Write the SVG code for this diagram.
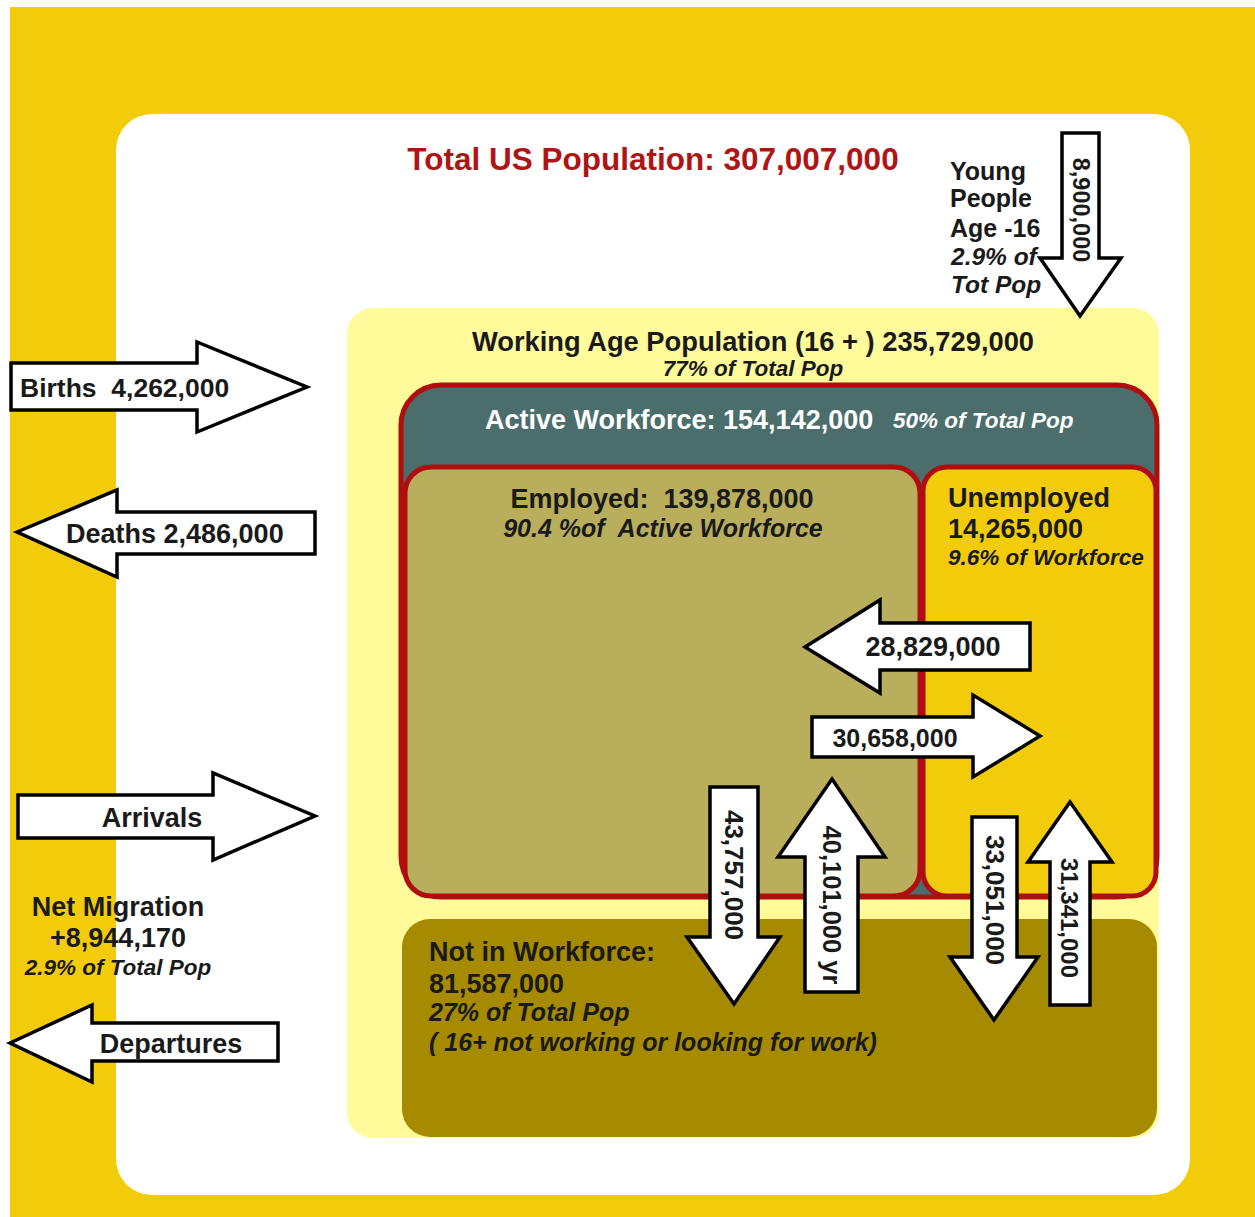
<svg xmlns="http://www.w3.org/2000/svg" width="1255" height="1217" viewBox="0 0 1255 1217">
<style>
  .b{font-family:"Liberation Sans",Arial,sans-serif;font-weight:bold;font-size:27px;fill:#1a1a1a}
  .i{font-family:"Liberation Sans",Arial,sans-serif;font-weight:bold;font-style:italic;font-size:22.5px;fill:#1a1a1a}
  .w{fill:#ffffff}
  .arr{fill:#ffffff;stroke:#000000;stroke-width:3.5;stroke-linejoin:miter}
  .box{stroke:#b00e0e;stroke-width:5}
</style>
<rect x="0" y="0" width="1255" height="1217" fill="#ffffff"/>
<rect x="10" y="7" width="1245" height="1210" fill="#f2cc0b"/>
<g id="total">
  <rect x="116" y="114" width="1074" height="1081" rx="36" fill="#ffffff"/>
  <text x="653" y="170" text-anchor="middle" class="b" style="fill:#b01515;font-size:31.5px">Total US Population: 307,007,000</text>
</g>
<g id="working-age">
  <rect x="347" y="308" width="812" height="830" rx="26" fill="#fffb9a"/>
  <text x="753" y="351" text-anchor="middle" class="b" style="font-size:27.3px">Working Age Population (16 + ) 235,729,000</text>
  <text x="753" y="376" text-anchor="middle" class="i">77% of Total Pop</text>
</g>
<g id="active-workforce">
  <rect x="401" y="385" width="756" height="512" rx="40" fill="#4b6d6b" class="box"/>
  <text x="485" y="429" class="b w">Active Workforce: 154,142,000</text>
  <text x="893" y="428" class="i w">50% of Total Pop</text>
</g>
<g id="employed">
  <rect x="405" y="467" width="515" height="429" rx="26" fill="#b9ae5c" class="box"/>
  <text x="662" y="508" text-anchor="middle" class="b" xml:space="preserve">Employed:  139,878,000</text>
  <text x="663" y="537" text-anchor="middle" class="i" style="font-size:25px" xml:space="preserve">90.4 %of  Active Workforce</text>
</g>
<g id="unemployed">
  <rect x="923" y="467" width="233" height="429" rx="24" fill="#f2cb0a" class="box"/>
  <text x="948" y="507" class="b">Unemployed</text>
  <text x="948" y="538" class="b">14,265,000</text>
  <text x="948" y="565" class="i">9.6% of Workforce</text>
</g>
<g id="not-in-workforce">
  <rect x="402" y="919" width="755" height="218" rx="28" fill="#a68a00"/>
  <text x="429" y="961" class="b">Not in Workforce:</text>
  <text x="429" y="993" class="b">81,587,000</text>
  <text x="429" y="1021" class="i" style="font-size:25px">27% of Total Pop</text>
  <text x="429" y="1051" class="i" style="font-size:25px">( 16+ not working or looking for work)</text>
</g>
<g id="young-people">
  <text x="950" y="180" class="b" style="font-size:25px">Young</text>
  <text x="950" y="207" class="b" style="font-size:25px">People</text>
  <text x="950" y="237" class="b" style="font-size:25px">Age -16</text>
  <text x="951" y="265" class="i" style="font-size:24.5px">2.9% of</text>
  <text x="951" y="293" class="i" style="font-size:24.5px">Tot Pop</text>
</g>
<g id="net-migration">
  <text x="118" y="916" text-anchor="middle" class="b">Net Migration</text>
  <text x="118" y="947" text-anchor="middle" class="b">+8,944,170</text>
  <text x="118" y="975" text-anchor="middle" class="i">2.9% of Total Pop</text>
</g>
<g id="connectors">
  <g id="births">
    <path class="arr" d="M11,363 H197 V342 L307,387 L197,432 V410 H11 Z"/>
    <text x="20" y="397" class="b" style="font-size:26.5px" xml:space="preserve">Births  4,262,000</text>
  </g>
  <g id="deaths">
    <path class="arr" d="M17,532 L117,490 V512 H315 V554 H117 V577 Z"/>
    <text x="66" y="543" class="b">Deaths 2,486,000</text>
  </g>
  <g id="arrivals">
    <path class="arr" d="M18,795 H213 V773 L315,816 L213,860 V838 H18 Z"/>
    <text x="152" y="827" text-anchor="middle" class="b">Arrivals</text>
  </g>
  <g id="departures">
    <path class="arr" d="M10,1043 L92,1005 V1023 H278 V1061 H92 V1082 Z"/>
    <text x="171" y="1053" text-anchor="middle" class="b">Departures</text>
  </g>
  <g id="young-arrow">
    <path class="arr" d="M1062,133 H1099 V258 H1121 L1080,316 L1040,258 H1062 Z"/>
    <text transform="translate(1073,210) rotate(90)" text-anchor="middle" class="b" style="font-size:23.5px">8,900,000</text>
  </g>
  <g id="emp-to-unemp-left">
    <path class="arr" d="M805,647 L880,600 V623 H1030 V670 H880 V693 Z"/>
    <text x="933" y="656" text-anchor="middle" class="b">28,829,000</text>
  </g>
  <g id="emp-to-unemp-right">
    <path class="arr" d="M812,717 H973 V695 L1040,736 L973,777 V757 H812 Z"/>
    <text x="895" y="747" text-anchor="middle" class="b" style="font-size:25px">30,658,000</text>
  </g>
  <g id="emp-down">
    <path class="arr" d="M710,787 H758 V937 H780 L734,1004 L687,937 H710 Z"/>
    <text transform="translate(725,875) rotate(90)" text-anchor="middle" class="b" style="font-size:26px">43,757,000</text>
  </g>
  <g id="emp-up">
    <path class="arr" d="M832,779 L885,857 H858 V992 H805 V857 H778 Z"/>
    <text transform="translate(823,905) rotate(90)" text-anchor="middle" class="b" style="font-size:25.5px">40,101,000 yr</text>
  </g>
  <g id="unemp-down">
    <path class="arr" d="M972,817 H1017 V957 H1038 L994,1020 L950,957 H972 Z"/>
    <text transform="translate(986,900) rotate(90)" text-anchor="middle" class="b" style="font-size:26px">33,051,000</text>
  </g>
  <g id="unemp-up">
    <path class="arr" d="M1070,802 L1112,862 H1090 V1005 H1050 V862 H1028 Z"/>
    <text transform="translate(1061,918) rotate(90)" text-anchor="middle" class="b" style="font-size:24px">31,341,000</text>
  </g>
</g>
</svg>
